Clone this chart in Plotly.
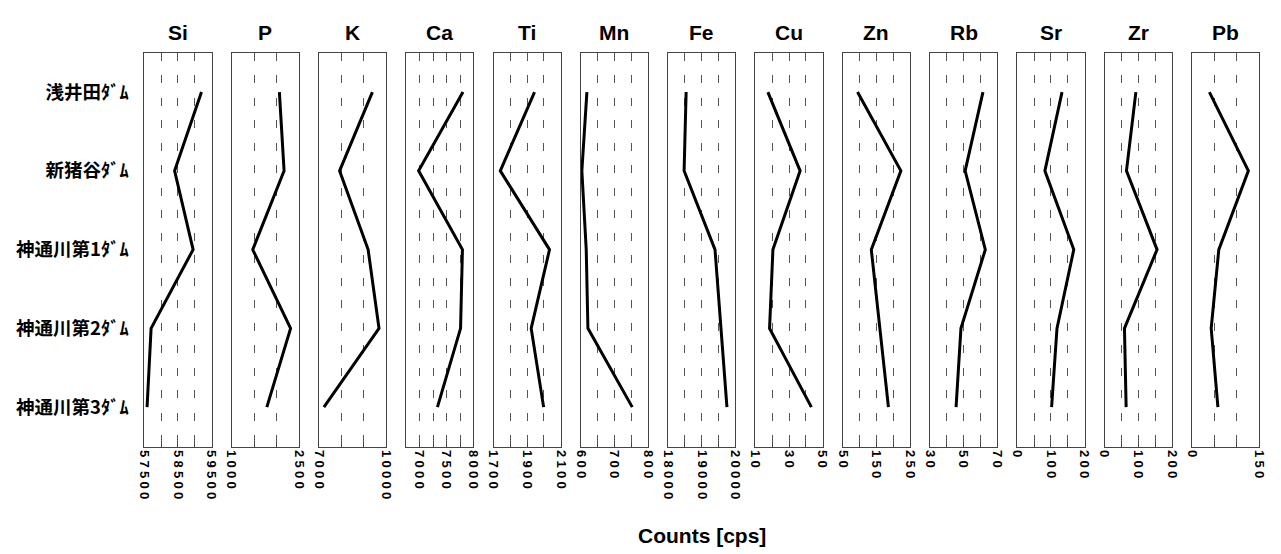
import plotly.graph_objects as go

# Sampling sites (top to bottom)
sites = ["浅井田ﾀﾞﾑ", "新猪谷ﾀﾞﾑ", "神通川第1ﾀﾞﾑ", "神通川第2ﾀﾞﾑ", "神通川第3ﾀﾞﾑ"]

# Element names, one panel each
elements = ["Si", "P", "K", "Ca", "Ti", "Mn", "Fe", "Cu", "Zn", "Rb", "Sr", "Zr", "Pb"]

# Counts [cps] per element, in site order
si = [59200, 58400, 58950, 57700, 57580]
p = [2065, 2170, 1470, 2315, 1785]
k = [9385, 7920, 9195, 9680, 7220]
ca = [7805, 6980, 7795, 7760, 7330]
ti = [1944, 1740, 2033, 1924, 1998]
mn = [618, 603, 616, 621, 753]
fe = [18535, 18475, 19395, 19570, 19750]
cu = [17.4, 36.6, 20.4, 18.4, 43.3]
zn = [94, 223, 135, 161, 186]
rb = [61.5, 50.9, 62.9, 48.4, 45.5]
sr = [133, 82, 168, 118, 102]
zr = [93, 65, 156, 59, 64]
pb = [39, 126, 60, 43, 58]

values = [si, p, k, ca, ti, mn, fe, cu, zn, rb, sr, zr, pb]

# Axis scales: minimum, maximum, grid interval, labelled values
axis_min = [57500, 1000, 7000, 6750, 1700, 600, 18000, 10, 50, 30, 0, 0, 0]
axis_max = [59500, 2500, 10000, 8000, 2100, 800, 20000, 50, 250, 70, 200, 200, 150]
grid_step = [500, 500, 1000, 250, 100, 50, 500, 10, 50, 10, 50, 50, 50]
tick_labels = [
    [57500, 58500, 59500],
    [1000, 2500],
    [7000, 10000],
    [7000, 7500, 8000],
    [1700, 1900, 2100],
    [600, 700, 800],
    [18000, 19000, 20000],
    [10, 30, 50],
    [50, 150, 250],
    [30, 50, 70],
    [0, 100, 200],
    [0, 100, 200],
    [0, 150],
]

W, H = 1281, 554
panel_left0 = 139.0
panel_pitch = 88.33
panel_width = 68.0
plot_top = 52.7
plot_bottom = 446.5

sp = "\u2005"  # spacing between stacked digits

FONT = "Arial, Liberation Sans, sans-serif"


def spaced(v):
    return sp.join(str(v))


fig = go.Figure()
layout = {}

for i, (name, vals) in enumerate(zip(elements, values)):
    n = "" if i == 0 else str(i + 1)
    fig.add_trace(go.Scatter(
        x=vals, y=sites, mode="lines",
        line=dict(color="black", width=3),
        xaxis="x" + n, yaxis="y" + n,
        showlegend=False, hoverinfo="x+y",
    ))

    x0 = panel_left0 + panel_pitch * i
    dom = [x0 / W, (x0 + panel_width) / W]

    lo, hi, step = axis_min[i], axis_max[i], grid_step[i]
    grid_vals = []
    v = lo
    while v <= hi + 1e-9:
        grid_vals.append(v)
        v += step
    labelled = set(tick_labels[i])
    ticktext = [spaced(g) if g in labelled else "" for g in grid_vals]

    layout["xaxis" + n] = dict(
        domain=dom, range=[lo, hi], anchor="y" + n,
        tickmode="array", tickvals=grid_vals, ticktext=ticktext,
        tickangle=90,
        tickfont=dict(family=FONT, size=13, color="black", weight="bold"),
        ticks="inside", ticklen=4, tickcolor="#444",
        showgrid=True, gridcolor="#555", gridwidth=1, griddash="8px,14.5px",
        showline=True, linecolor="#444", linewidth=1, mirror=True,
        zeroline=False, fixedrange=True,
    )
    layout["yaxis" + n] = dict(
        domain=[(H - plot_bottom) / H, (H - plot_top) / H],
        anchor="x" + n,
        type="category", categoryorder="array", categoryarray=sites,
        range=[4.5, -0.5],
        showticklabels=(i == 0), ticks="", ticklabelstandoff=11,
        tickfont=dict(family="Noto Sans CJK JP", size=18.5, color="black",
                      weight="bold"),
        showgrid=False, zeroline=False,
        showline=True, linecolor="#444", linewidth=1, mirror=True,
        fixedrange=True,
    )
    if i > 0:
        layout["yaxis" + n]["matches"] = "y"

annotations = []
for i, name in enumerate(elements):
    cx = panel_left0 + panel_pitch * i + panel_width / 2
    annotations.append(dict(
        text=name, x=cx / W, y=(H - 33) / H, xref="paper", yref="paper",
        xanchor="center", yanchor="middle", showarrow=False,
        font=dict(family=FONT, size=21, color="black", weight="bold"),
    ))
annotations.append(dict(
    text="Counts [cps]", x=703 / W, y=(H - 535) / H, xref="paper", yref="paper",
    xanchor="center", yanchor="middle", showarrow=False,
    font=dict(family=FONT, size=21, color="black", weight="bold"),
))

fig.update_layout(
    width=W, height=H, autosize=False,
    margin=dict(l=0, r=0, t=0, b=0),
    paper_bgcolor="white", plot_bgcolor="white",
    annotations=annotations,
    **layout,
)

fig.write_html("out.html")
